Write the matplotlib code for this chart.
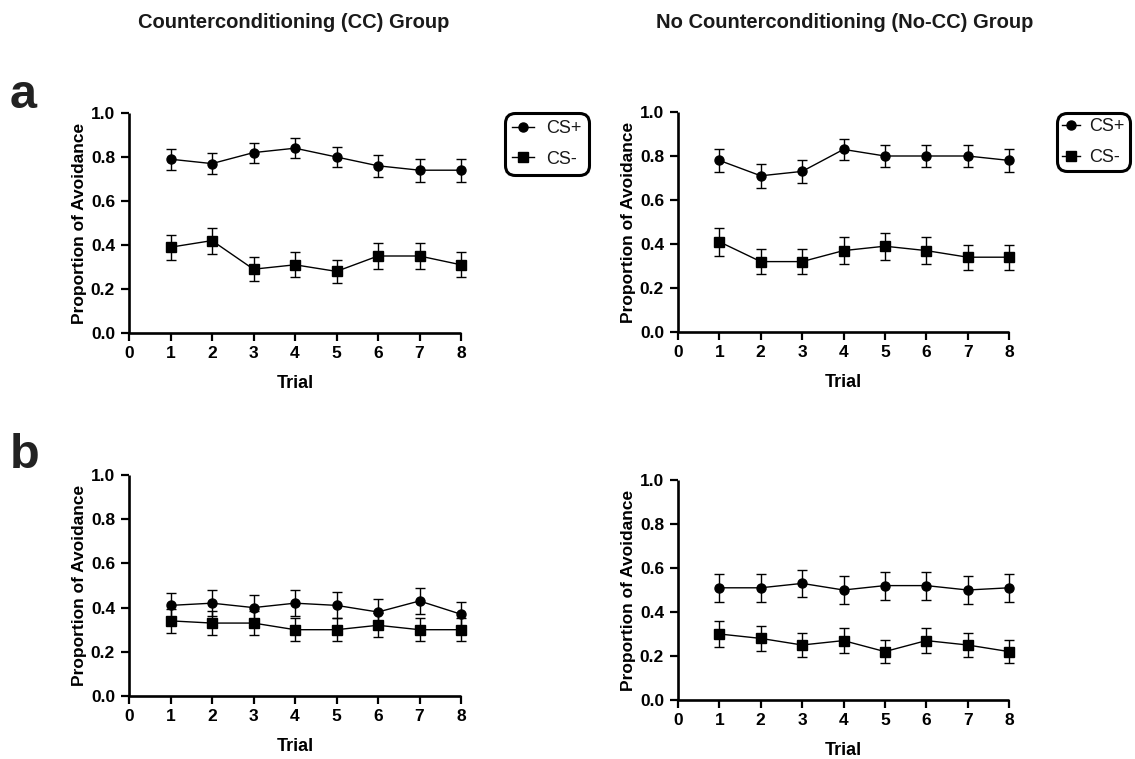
import matplotlib
matplotlib.use("Agg")
import matplotlib.pyplot as plt
from matplotlib.lines import Line2D

plt.rcParams.update({
    "font.family": ["Liberation Sans", "DejaVu Sans"],
    "font.weight": "bold",
    "axes.linewidth": 1.9,
    "xtick.major.width": 1.6,
    "ytick.major.width": 1.6,
    "xtick.major.size": 5.5,
    "ytick.major.size": 6,
    "xtick.labelsize": 12.5,
    "ytick.labelsize": 12.5,
    "text.color": "#1a1a1a",
})

trials = [1, 2, 3, 4, 5, 6, 7, 8]

# a: CC group
a_cc_plus = [0.79, 0.77, 0.82, 0.84, 0.80, 0.76, 0.74, 0.74]
a_cc_plus_sem = [0.048, 0.048, 0.045, 0.045, 0.047, 0.051, 0.052, 0.052]
a_cc_minus = [0.39, 0.42, 0.29, 0.31, 0.28, 0.35, 0.35, 0.31]
a_cc_minus_sem = [0.057, 0.059, 0.055, 0.056, 0.054, 0.057, 0.057, 0.056]

# a: No-CC group
a_nocc_plus = [0.78, 0.71, 0.73, 0.83, 0.80, 0.80, 0.80, 0.78]
a_nocc_plus_sem = [0.053, 0.055, 0.054, 0.048, 0.052, 0.052, 0.050, 0.053]
a_nocc_minus = [0.41, 0.32, 0.32, 0.37, 0.39, 0.37, 0.34, 0.34]
a_nocc_minus_sem = [0.063, 0.057, 0.057, 0.060, 0.061, 0.060, 0.056, 0.056]

# b: CC group
b_cc_plus = [0.41, 0.42, 0.40, 0.42, 0.41, 0.38, 0.43, 0.37]
b_cc_plus_sem = [0.058, 0.058, 0.057, 0.058, 0.059, 0.057, 0.059, 0.057]
b_cc_minus = [0.34, 0.33, 0.33, 0.30, 0.30, 0.32, 0.30, 0.30]
b_cc_minus_sem = [0.054, 0.056, 0.056, 0.053, 0.053, 0.055, 0.053, 0.053]

# b: No-CC group
b_nocc_plus = [0.51, 0.51, 0.53, 0.50, 0.52, 0.52, 0.50, 0.51]
b_nocc_plus_sem = [0.064, 0.064, 0.063, 0.064, 0.064, 0.064, 0.064, 0.064]
b_nocc_minus = [0.30, 0.28, 0.25, 0.27, 0.22, 0.27, 0.25, 0.22]
b_nocc_minus_sem = [0.058, 0.058, 0.055, 0.056, 0.052, 0.056, 0.055, 0.052]

W, H = 1135, 759
fig = plt.figure(figsize=(W / 100, H / 100), dpi=100)


def px_axes(x0, y0, x1, y1):
    return fig.add_axes([x0 / W, 1 - y1 / H, (x1 - x0) / W, (y1 - y0) / H])


def panel(ax, plus, plus_sem, minus, minus_sem):
    for y, e, m, ms in [(plus, plus_sem, "o", 6.5), (minus, minus_sem, "s", 7)]:
        eb = ax.errorbar(trials, y, yerr=e, fmt="none", ecolor="black",
                         elinewidth=1.0, capsize=3.5, capthick=1.0, zorder=2)
        for art in eb.lines[1] + eb.lines[2]:
            art.set_clip_on(False)
        ax.plot(trials, y, color="black", lw=1.0, marker=m, ms=ms, zorder=3,
                clip_on=False)
    ax.set_xlim(0, 8)
    ax.set_ylim(0, 1.0)
    ax.set_xticks(range(0, 9))
    ax.set_yticks([0.0, 0.2, 0.4, 0.6, 0.8, 1.0])
    ax.set_yticklabels(["0.0", "0.2", "0.4", "0.6", "0.8", "1.0"])
    for s in ["top", "right"]:
        ax.spines[s].set_visible(False)
    for s in ["left", "bottom"]:
        ax.spines[s].set_capstyle("butt")
    ax.tick_params(direction="out", pad=4)
    ax.set_xlabel("Trial", fontsize=13, fontweight="bold", labelpad=10)
    ax.set_ylabel("Proportion of Avoidance", fontsize=12.5, fontweight="bold",
                  labelpad=3)


ax1 = px_axes(129, 113, 461, 333)
panel(ax1, a_cc_plus, a_cc_plus_sem, a_cc_minus, a_cc_minus_sem)
ax2 = px_axes(678, 112, 1009, 332)
panel(ax2, a_nocc_plus, a_nocc_plus_sem, a_nocc_minus, a_nocc_minus_sem)
ax3 = px_axes(129, 475, 461, 696)
panel(ax3, b_cc_plus, b_cc_plus_sem, b_cc_minus, b_cc_minus_sem)
ax4 = px_axes(678, 480, 1009, 700)
panel(ax4, b_nocc_plus, b_nocc_plus_sem, b_nocc_minus, b_nocc_minus_sem)

handles = [Line2D([], [], color="black", lw=1.0, marker="o", ms=6.5),
           Line2D([], [], color="black", lw=1.0, marker="s", ms=6.5)]


def add_legend(ax, x, y, hl, tp, bp):
    leg = ax.legend(handles, ["CS+", "CS-"], loc="upper left",
                    bbox_to_anchor=(x / W, 1 - y / H),
                    bbox_transform=fig.transFigure,
                    prop={"family": "Liberation Sans", "weight": "normal",
                          "size": 13},
                    frameon=True, fancybox=True, edgecolor="black",
                    framealpha=1, handlelength=hl, handletextpad=tp,
                    labelspacing=0.75, borderpad=bp, borderaxespad=0)
    leg.get_frame().set_linewidth(2.2)
    leg.get_frame().set_boxstyle("round,pad=0.0,rounding_size=0.55")


add_legend(ax1, 505, 113, 1.2, 0.7, 0.4)
add_legend(ax2, 1057, 113, 1.0, 0.5, 0.3)

fig.text(294 / W, 1 - 22 / H, "Counterconditioning (CC) Group",
         ha="center", va="center", fontsize=14.5, fontweight="bold")
fig.text(845 / W, 1 - 22 / H, "No Counterconditioning (No-CC) Group",
         ha="center", va="center", fontsize=14.5, fontweight="bold")
fig.text(10 / W, 1 - 108 / H, "a", ha="left", va="baseline",
         fontsize=35, fontweight="bold", color="#222222")
fig.text(10 / W, 1 - 468 / H, "b", ha="left", va="baseline",
         fontsize=35, fontweight="bold", color="#222222")

fig.savefig("out.png", dpi=100)
